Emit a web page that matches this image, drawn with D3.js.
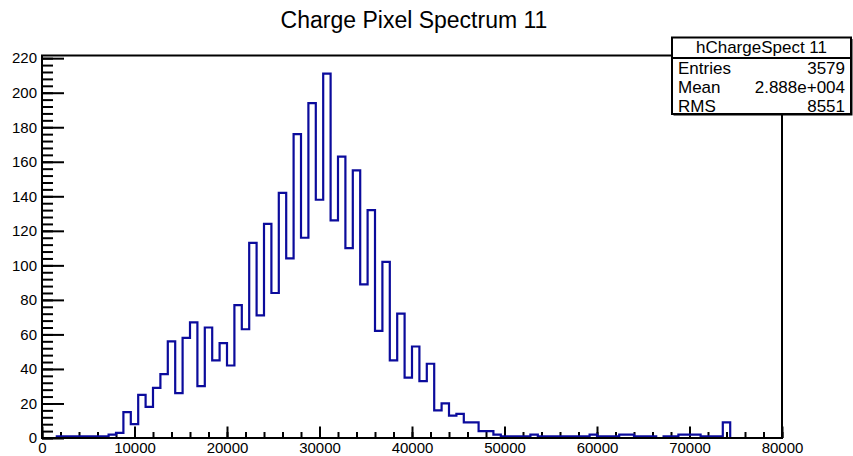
<!DOCTYPE html>
<html>
<head>
<meta charset="utf-8">
<script src="https://cdn.jsdelivr.net/npm/d3@7/dist/d3.min.js"></script>
<style>
  body { margin: 0; background: #fff; }
  svg { display: block; font-family: "Liberation Sans", Arial, sans-serif; }
</style>
</head>
<body>
<svg id="chart"></svg>
<script>
// histogram: 100 bins of 800 from 0 to 80000
var binStart = 0;
var binWidth = 800;
var counts = [
  0, 0, 1, 1, 1, 1, 1, 1, 1, 2,
  3, 15, 8, 25, 18, 29, 37, 56, 26, 58,
  67, 30, 64, 45, 55, 42, 77, 63, 113, 71,
  124, 84, 142, 104, 176, 116, 194, 138, 211, 126,
  163, 110, 155, 89, 132, 62, 102, 45, 72, 35,
  53, 33, 43, 16, 20, 13, 14, 9, 9, 4,
  4, 2, 1, 1, 1, 1, 2, 1, 1, 1,
  1, 1, 1, 1, 2, 1, 1, 1, 2, 2,
  1, 1, 1, 0, 1, 1, 2, 2, 2, 1,
  1, 1, 9, 0, 0, 0, 0, 0, 0, 0
];
var xTicks = [0, 10000, 20000, 30000, 40000, 50000, 60000, 70000, 80000];
var yTicks = [0, 20, 40, 60, 80, 100, 120, 140, 160, 180, 200, 220];
var title = "Charge Pixel Spectrum 11";
var statsTitle = "hChargeSpect 11";
var statsLabels = ["Entries", "Mean", "RMS"];
var statsValues = ["3579", "2.888e+004", "8551"];

var width = 853;
var height = 456;
var frame = {left: 42, right: 782, top: 55.5, bottom: 438};
var histColor = '#0b0b9c';

var svg = d3.select('#chart')
    .attr('width', width)
    .attr('height', height);

var xScale = d3.scaleLinear()
    .domain([0, 80000])
    .range([frame.left, frame.right]);

var yScale = d3.scaleLinear()
    .domain([0, d3.max(counts) * 1.05])
    .range([frame.bottom, frame.top]);

// minor ticks first
var xMinor = d3.range(0, 80001, 2000);
var yMinor = d3.range(0, 221, 4);

svg.append('g')
    .attr('transform', 'translate(0,' + frame.bottom + ')')
    .call(d3.axisBottom(xScale).tickValues(xMinor).tickSize(-6).tickFormat(''))
    .call(function(g) { g.select('.domain').remove(); })
    .selectAll('line')
      .attr('stroke', '#000')
      .attr('stroke-width', 2);

svg.append('g')
    .attr('transform', 'translate(' + frame.left + ',0)')
    .call(d3.axisLeft(yScale).tickValues(yMinor).tickSize(-11).tickFormat(''))
    .call(function(g) { g.select('.domain').remove(); })
    .selectAll('line')
      .attr('stroke', '#000')
      .attr('stroke-width', 2);

// major ticks with labels
var xAxis = svg.append('g')
    .attr('transform', 'translate(0,' + frame.bottom + ')')
    .call(d3.axisBottom(xScale).tickValues(xTicks).tickSize(-11.5).tickPadding(4)
      .tickFormat(d3.format('d')))
    .call(function(g) { g.select('.domain').remove(); });
xAxis.selectAll('line')
    .attr('stroke', '#000')
    .attr('stroke-width', 2);
xAxis.selectAll('text')
    .attr('font-size', 15)
    .attr('font-family', '"Liberation Sans", Arial, sans-serif')
    .attr('fill', '#000');

var yAxis = svg.append('g')
    .attr('transform', 'translate(' + frame.left + ',0)')
    .call(d3.axisLeft(yScale).tickValues(yTicks).tickSize(-22).tickPadding(5)
      .tickFormat(d3.format('d')))
    .call(function(g) { g.select('.domain').remove(); });
yAxis.selectAll('line')
    .attr('stroke', '#000')
    .attr('stroke-width', 2);
yAxis.selectAll('text')
    .attr('font-size', 15)
    .attr('font-family', '"Liberation Sans", Arial, sans-serif')
    .attr('fill', '#000');

// step outline of the histogram
var points = [[binStart, 0]];
counts.forEach(function(c, i) {
  var lo = binStart + i * binWidth;
  points.push([lo, c]);
  points.push([lo + binWidth, c]);
});
points.push([binStart + counts.length * binWidth, 0]);

var line = d3.line()
    .x(function(d) { return xScale(d[0]); })
    .y(function(d) { return yScale(d[1]); });

svg.append('path')
    .datum(points)
    .attr('d', line)
    .attr('fill', 'none')
    .attr('stroke', histColor)
    .attr('stroke-width', 2.2)
    .attr('stroke-linejoin', 'miter');

// frame
svg.append('rect')
    .attr('x', frame.left)
    .attr('y', frame.top)
    .attr('width', frame.right - frame.left)
    .attr('height', frame.bottom - frame.top)
    .attr('fill', 'none')
    .attr('stroke', '#000')
    .attr('stroke-width', 2);

// title
svg.append('text')
    .attr('x', 414)
    .attr('y', 28)
    .attr('text-anchor', 'middle')
    .attr('font-size', 23)
    .attr('fill', '#000')
    .text(title);

// stats box
var box = {x: 672, y: 37.5, w: 179, h: 76.5, head: 58};
var stats = svg.append('g');

stats.append('rect')
    .attr('x', box.x + 1.5)
    .attr('y', box.y + 1.5)
    .attr('width', box.w)
    .attr('height', box.h)
    .attr('fill', '#000');

stats.append('rect')
    .attr('x', box.x)
    .attr('y', box.y)
    .attr('width', box.w)
    .attr('height', box.h)
    .attr('fill', '#fff')
    .attr('stroke', '#000')
    .attr('stroke-width', 2);

stats.append('line')
    .attr('x1', box.x)
    .attr('x2', box.x + box.w)
    .attr('y1', box.head)
    .attr('y2', box.head)
    .attr('stroke', '#000')
    .attr('stroke-width', 2);

stats.append('text')
    .attr('x', box.x + box.w / 2)
    .attr('y', 53)
    .attr('text-anchor', 'middle')
    .attr('font-size', 17)
    .text(statsTitle);

stats.selectAll('.stat-label')
    .data(statsLabels)
    .enter()
    .append('text')
      .classed('stat-label', true)
      .attr('x', box.x + 6)
      .attr('y', function(d, i) { return 73.5 + i * 19.2; })
      .attr('font-size', 17)
      .text(function(d) { return d; });

stats.selectAll('.stat-value')
    .data(statsValues)
    .enter()
    .append('text')
      .classed('stat-value', true)
      .attr('x', box.x + box.w - 6)
      .attr('y', function(d, i) { return 73.5 + i * 19.2; })
      .attr('text-anchor', 'end')
      .attr('font-size', 17)
      .text(function(d) { return d; });
</script>
</body>
</html>
